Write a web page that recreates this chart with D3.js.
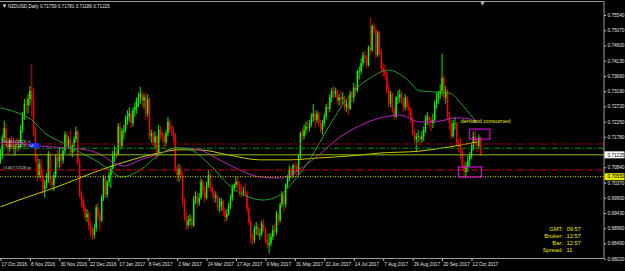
<!DOCTYPE html>
<html>
<head>
<meta charset="utf-8">
<script src="https://cdn.jsdelivr.net/npm/d3@7"></script>
<style>
  body { margin: 0; background: #000; }
  svg { display: block; }
  text { font-family: "Liberation Sans", Arial, sans-serif; }
</style>
</head>
<body>
<svg id="chart" width="625" height="271"></svg>
<script>
// NZDUSD daily bars, 17 Oct 2016 .. 19 Oct 2017
const opens = [
  0.7105,0.7125,0.7175,0.7205,0.7165,0.7140,0.7168,0.7160,0.7140,0.7150,0.7145,
  0.7150,0.7200,0.7245,0.7280,0.7275,0.7295,0.7320,0.7290,0.7195,0.7115,
  0.7060,0.7095,0.7055,0.7015,0.7030,0.7045,0.7125,0.7040,0.7030,0.7060,
  0.7115,0.7100,0.7120,0.7105,0.7135,0.7185,0.7150,0.7170,0.7130,0.7150,
  0.7170,0.7195,0.7100,0.7005,0.6985,0.6960,0.6930,0.6940,0.6905,0.6880,
  0.6875,0.6895,0.6960,0.6935,0.6920,0.6990,0.7050,0.7000,0.7040,0.7060,
  0.7080,0.7120,0.7130,0.7125,0.7210,0.7150,0.7195,0.7200,0.7230,0.7240,
  0.7250,0.7220,0.7260,0.7270,0.7290,0.7300,0.7310,0.7290,0.7300,0.7250,
  0.7295,0.7180,0.7190,0.7160,0.7180,0.7130,0.7200,0.7185,0.7180,0.7160,
  0.7190,0.7225,0.7200,0.7195,0.7185,0.7080,0.7060,0.7080,0.7060,0.6980,
  0.6930,0.6905,0.6920,0.6925,0.6905,0.6985,0.6995,0.6975,0.6990,0.7040,
  0.7010,0.6990,0.7030,0.7060,0.7020,0.7005,0.6990,0.6995,0.6960,0.6965,
  0.6980,0.6950,0.6930,0.6940,0.6965,0.6990,0.7020,0.7030,0.7040,0.7030,
  0.7010,0.7005,0.7010,0.7005,0.6955,0.6915,0.6865,0.6860,0.6895,0.6900,
  0.6875,0.6880,0.6910,0.6895,0.6860,0.6845,0.6850,0.6870,0.6890,0.6885,
  0.6940,0.6920,0.6970,0.7000,0.6970,0.7030,0.7050,0.7080,0.7060,0.7090,
  0.7085,0.7070,0.7120,0.7190,0.7180,0.7200,0.7210,0.7205,0.7220,0.7240,
  0.7250,0.7230,0.7250,0.7220,0.7200,0.7220,0.7240,0.7270,0.7265,0.7300,
  0.7320,0.7310,0.7320,0.7290,0.7300,0.7295,0.7300,0.7270,0.7280,0.7265,
  0.7310,0.7300,0.7330,0.7320,0.7380,0.7380,0.7405,0.7430,0.7420,0.7400,
  0.7455,0.7445,0.7520,0.7510,0.7430,0.7500,0.7440,0.7390,0.7380,0.7370,
  0.7320,0.7280,0.7310,0.7260,0.7240,0.7300,0.7300,0.7310,0.7290,0.7270,
  0.7300,0.7270,0.7260,0.7230,0.7190,0.7170,0.7180,0.7180,0.7170,0.7180,
  0.7200,0.7230,0.7240,0.7230,0.7220,0.7230,0.7280,0.7300,0.7310,0.7320,
  0.7360,0.7300,0.7320,0.7240,0.7220,0.7180,0.7220,0.7220,0.7160,0.7150,
  0.7130,0.7090,0.7070,0.7085,0.7105,0.7120,0.7140,0.7180,0.7165,0.7150,0.71759
];
const highs = [
  0.7140,0.7185,0.7228,0.7220,0.7175,0.7175,0.7182,0.7175,0.7165,0.7175,0.7170,
  0.7215,0.7255,0.7295,0.7300,0.7310,0.7335,0.7404,0.7330,0.7210,0.7125,
  0.7110,0.7110,0.7075,0.7045,0.7065,0.7135,0.7130,0.7055,0.7070,0.7125,
  0.7135,0.7145,0.7130,0.7145,0.7195,0.7195,0.7180,0.7200,0.7160,0.7180,
  0.7210,0.7200,0.7110,0.7010,0.6995,0.6970,0.6955,0.6950,0.6920,0.6900,
  0.6910,0.6970,0.6975,0.6950,0.7000,0.7060,0.7060,0.7045,0.7070,0.7090,
  0.7135,0.7150,0.7140,0.7220,0.7225,0.7205,0.7215,0.7245,0.7260,0.7270,
  0.7260,0.7270,0.7285,0.7300,0.7315,0.7332,0.7320,0.7310,0.7315,0.7310,
  0.7300,0.7200,0.7200,0.7195,0.7185,0.7215,0.7210,0.7195,0.7190,0.7200,
  0.7240,0.7230,0.7215,0.7210,0.7190,0.7090,0.7095,0.7090,0.7070,0.6990,
  0.6945,0.6935,0.6940,0.6935,0.6995,0.7010,0.7005,0.7005,0.7050,0.7045,
  0.7025,0.7040,0.7075,0.7065,0.7030,0.7015,0.7010,0.7000,0.6990,0.6990,
  0.6985,0.6960,0.6955,0.6975,0.7000,0.7030,0.7035,0.7055,0.7055,0.7040,
  0.7030,0.7025,0.7035,0.7010,0.6965,0.6925,0.6880,0.6905,0.6915,0.6910,
  0.6895,0.6920,0.6925,0.6900,0.6880,0.6880,0.6880,0.6905,0.6910,0.6950,
  0.6945,0.6975,0.7010,0.7005,0.7035,0.7060,0.7090,0.7085,0.7095,0.7100,
  0.7095,0.7125,0.7195,0.7205,0.7215,0.7225,0.7230,0.7230,0.7250,0.7280,
  0.7260,0.7260,0.7255,0.7230,0.7230,0.7250,0.7280,0.7285,0.7310,0.7330,
  0.7335,0.7330,0.7325,0.7310,0.7320,0.7315,0.7305,0.7290,0.7295,0.7320,
  0.7320,0.7345,0.7340,0.7385,0.7395,0.7420,0.7440,0.7445,0.7430,0.7460,
  0.7546,0.7525,0.7530,0.7515,0.7505,0.7505,0.7450,0.7405,0.7400,0.7380,
  0.7340,0.7320,0.7315,0.7270,0.7305,0.7320,0.7325,0.7320,0.7300,0.7310,
  0.7305,0.7285,0.7270,0.7240,0.7200,0.7190,0.7200,0.7185,0.7195,0.7210,
  0.7245,0.7255,0.7245,0.7240,0.7250,0.7290,0.7315,0.7320,0.7340,0.7435,
  0.7370,0.7335,0.7325,0.7255,0.7230,0.7230,0.7240,0.7225,0.7170,0.7175,
  0.7140,0.7105,0.7100,0.7120,0.7130,0.7155,0.7195,0.7198,0.7175,0.7185,0.71781
];
const lows = [
  0.7095,0.7110,0.7160,0.7150,0.7125,0.7130,0.7140,0.7125,0.7120,0.7130,0.7135,
  0.7140,0.7190,0.7230,0.7255,0.7250,0.7275,0.7240,0.7180,0.7100,0.7040,
  0.7050,0.7040,0.7000,0.6990,0.7020,0.7035,0.7025,0.7015,0.7010,0.7050,
  0.7085,0.7080,0.7085,0.7095,0.7125,0.7140,0.7140,0.7120,0.7115,0.7130,
  0.7160,0.7090,0.6990,0.6960,0.6945,0.6920,0.6915,0.6890,0.6870,0.6862,
  0.6865,0.6885,0.6920,0.6890,0.6915,0.6980,0.6990,0.6990,0.7025,0.7020,
  0.7070,0.7100,0.7110,0.7120,0.7140,0.7140,0.7170,0.7190,0.7215,0.7225,
  0.7205,0.7210,0.7240,0.7250,0.7270,0.7280,0.7270,0.7265,0.7230,0.7240,
  0.7170,0.7160,0.7150,0.7140,0.7110,0.7125,0.7170,0.7165,0.7145,0.7150,
  0.7180,0.7190,0.7180,0.7160,0.7070,0.7040,0.7040,0.7045,0.6965,0.6920,
  0.6890,0.6895,0.6905,0.6895,0.6900,0.6970,0.6960,0.6965,0.6985,0.6995,
  0.6975,0.6985,0.7020,0.7010,0.6990,0.6975,0.6975,0.6950,0.6945,0.6950,
  0.6935,0.6915,0.6920,0.6935,0.6955,0.6980,0.7010,0.7020,0.7015,0.6995,
  0.6990,0.6995,0.6995,0.6945,0.6905,0.6850,0.6845,0.6850,0.6875,0.6865,
  0.6860,0.6870,0.6885,0.6850,0.6835,0.6818,0.6840,0.6860,0.6870,0.6875,
  0.6905,0.6915,0.6960,0.6945,0.6960,0.7020,0.7040,0.7050,0.7050,0.7060,
  0.7055,0.7060,0.7110,0.7165,0.7170,0.7185,0.7190,0.7195,0.7210,0.7225,
  0.7205,0.7220,0.7210,0.7190,0.7185,0.7210,0.7230,0.7250,0.7255,0.7285,
  0.7295,0.7300,0.7280,0.7275,0.7270,0.7280,0.7260,0.7255,0.7245,0.7260,
  0.7285,0.7285,0.7305,0.7315,0.7355,0.7370,0.7395,0.7405,0.7390,0.7395,
  0.7430,0.7440,0.7495,0.7420,0.7425,0.7430,0.7380,0.7365,0.7355,0.7310,
  0.7270,0.7270,0.7255,0.7230,0.7235,0.7280,0.7285,0.7280,0.7255,0.7260,
  0.7260,0.7240,0.7220,0.7180,0.7160,0.7130,0.7160,0.7150,0.7160,0.7165,
  0.7190,0.7215,0.7210,0.7195,0.7205,0.7220,0.7265,0.7280,0.7295,0.7305,
  0.7290,0.7280,0.7230,0.7200,0.7170,0.7175,0.7200,0.7150,0.7130,0.7110,
  0.7080,0.7052,0.7055,0.7070,0.7085,0.7110,0.7135,0.7150,0.7130,0.7140,0.71189
];
const closes = [
  0.7125,0.7175,0.7205,0.7165,0.7140,0.7168,0.7160,0.7140,0.7150,0.7145,0.7150,
  0.7200,0.7245,0.7280,0.7275,0.7295,0.7320,0.7290,0.7195,0.7115,0.7060,
  0.7095,0.7055,0.7015,0.7030,0.7045,0.7125,0.7040,0.7030,0.7060,0.7115,
  0.7100,0.7120,0.7105,0.7135,0.7185,0.7150,0.7170,0.7130,0.7150,0.7170,
  0.7195,0.7100,0.7005,0.6985,0.6960,0.6930,0.6940,0.6905,0.6880,0.6875,
  0.6895,0.6960,0.6935,0.6920,0.6990,0.7050,0.7000,0.7040,0.7060,0.7080,
  0.7120,0.7130,0.7125,0.7210,0.7150,0.7195,0.7200,0.7230,0.7240,0.7250,
  0.7220,0.7260,0.7270,0.7290,0.7300,0.7310,0.7290,0.7300,0.7250,0.7295,
  0.7180,0.7190,0.7160,0.7180,0.7130,0.7200,0.7185,0.7180,0.7160,0.7190,
  0.7225,0.7200,0.7195,0.7185,0.7080,0.7060,0.7080,0.7060,0.6980,0.6930,
  0.6905,0.6920,0.6925,0.6905,0.6985,0.6995,0.6975,0.6990,0.7040,0.7010,
  0.6990,0.7030,0.7060,0.7020,0.7005,0.6990,0.6995,0.6960,0.6965,0.6980,
  0.6950,0.6930,0.6940,0.6965,0.6990,0.7020,0.7030,0.7040,0.7030,0.7010,
  0.7005,0.7010,0.7005,0.6955,0.6915,0.6865,0.6860,0.6895,0.6900,0.6875,
  0.6880,0.6910,0.6895,0.6860,0.6845,0.6850,0.6870,0.6890,0.6885,0.6940,
  0.6920,0.6970,0.7000,0.6970,0.7030,0.7050,0.7080,0.7060,0.7090,0.7085,
  0.7070,0.7120,0.7190,0.7180,0.7200,0.7210,0.7205,0.7220,0.7240,0.7250,
  0.7230,0.7250,0.7220,0.7200,0.7220,0.7240,0.7270,0.7265,0.7300,0.7320,
  0.7310,0.7320,0.7290,0.7300,0.7295,0.7300,0.7270,0.7280,0.7265,0.7310,
  0.7300,0.7330,0.7320,0.7380,0.7380,0.7405,0.7430,0.7420,0.7400,0.7455,
  0.7445,0.7520,0.7510,0.7430,0.7500,0.7440,0.7390,0.7380,0.7370,0.7320,
  0.7280,0.7310,0.7260,0.7240,0.7300,0.7300,0.7310,0.7290,0.7270,0.7300,
  0.7270,0.7260,0.7230,0.7190,0.7170,0.7180,0.7180,0.7170,0.7180,0.7200,
  0.7230,0.7240,0.7230,0.7220,0.7230,0.7280,0.7300,0.7310,0.7320,0.7360,
  0.7300,0.7320,0.7240,0.7220,0.7180,0.7220,0.7220,0.7160,0.7150,0.7130,
  0.7090,0.7070,0.7085,0.7105,0.7120,0.7140,0.7180,0.7165,0.7150,0.7176,0.71225
];

// moving averages, sampled as [bar index, price]
const maGreen = [[0,0.7267],[8,0.7255],[17,0.7230],[24,0.7190],[34,0.7159],[43,0.7131],[54,0.7097],
  [59,0.7076],[66,0.7054],[76,0.7076],[86,0.7122],[95,0.7144],[103,0.7138],[114,0.7091],[124,0.7030],
  [135,0.6992],[143,0.6983],[152,0.6999],[160,0.7045],[168,0.7107],[179,0.7215],[190,0.7307],
  [201,0.7360],[211,0.7384],[220,0.7360],[228,0.7320],[244,0.7313],[251,0.7276],[259,0.7221]];
const maMagenta = [[0,0.7162],[10,0.7159],[21,0.7150],[36,0.7144],[43,0.7141],[54,0.7125],[62,0.7097],
  [67,0.7088],[76,0.7107],[86,0.7125],[97,0.7144],[108,0.7138],[119,0.7107],[130,0.7076],[141,0.7054],
  [152,0.7051],[162,0.7076],[173,0.7122],[184,0.7175],[195,0.7212],[206,0.7236],[217,0.7245],
  [228,0.7224],[239,0.7227],[247,0.7236],[252,0.7236],[259,0.7224]];
const maYellow = [[0,0.6962],[10,0.6983],[29,0.7020],[59,0.7085],[86,0.7128],[97,0.7138],[108,0.7138],
  [124,0.7122],[141,0.7107],[157,0.7107],[173,0.7113],[190,0.7119],[206,0.7128],[228,0.7134],
  [244,0.7147],[259,0.7162]];

// date labels every 16 bars
const dateLabels = ["17 Oct 2016","8 Nov 2016","30 Nov 2016","22 Dec 2016","17 Jan 2017","8 Feb 2017",
  "2 Mar 2017","24 Mar 2017","17 Apr 2017","9 May 2017","31 May 2017","22 Jun 2017","14 Jul 2017",
  "7 Aug 2017","29 Aug 2017","20 Sep 2017","12 Oct 2017"];
// 0.71310 sits under the bid tag, so it is not listed
const priceTicks = [0.75540,0.75070,0.74600,0.74130,0.73660,0.73190,0.72720,0.72250,0.71780,
  0.70840,0.70370,0.69900,0.69430,0.68960,0.68490,0.68020];

// horizontal levels
const levels = [
  {price: 0.7156, color: "#a00000", dash: "6,2,1.5,2"},
  {price: 0.7143, color: "#109a10", dash: "6,2,1.5,2"},
  {price: 0.71225, color: "#8cc000", dash: null},
  {price: 0.7076, color: "#e00000", dash: "6,2,1.5,2"},
  {price: 0.7055, color: "#e0e000", dash: "1,1.5"}
];
const zones = [
  {from: 255, to: 266, top: 0.7202, bottom: 0.7171},
  {from: 249, to: 261.5, top: 0.7085, bottom: 0.7054}
];
const info = [["GMT:", "09:57"], ["Broker:", "12:57"], ["Bar:", "12:57"], ["Spread:", "11"]];

const W = 625, H = 271;
const plotRight = 604, plotTop = 2, plotBottom = 258.5;

const svg = d3.select("#chart");
svg.append("rect").attr("width", W).attr("height", H).attr("fill", "#000");

const x = d3.scaleLinear().domain([0, 256]).range([0.5, 471.5]);
const y = d3.scaleLinear().domain([0.6802, 0.7554]).range([258.7, 15]);

svg.append("clipPath").attr("id", "plot")
  .append("rect").attr("x", 0).attr("y", plotTop).attr("width", plotRight).attr("height", plotBottom - plotTop);

const plot = svg.append("g").attr("clip-path", "url(#plot)");

// candles
const bars = d3.range(closes.length).map(i => ({i, o: opens[i], h: highs[i], l: lows[i], c: closes[i]}));
const candle = plot.append("g").selectAll("g").data(bars).enter().append("g")
  .attr("fill", d => d.c >= d.o ? "#00ff00" : "#ff0000")
  .attr("stroke", d => d.c >= d.o ? "#00ff00" : "#ff0000");
candle.append("line")
  .attr("x1", d => x(d.i)).attr("x2", d => x(d.i))
  .attr("y1", d => y(d.h)).attr("y2", d => y(d.l))
  .attr("stroke-width", 0.9);
candle.append("rect")
  .attr("x", d => x(d.i) - 0.7).attr("width", 1.4)
  .attr("y", d => y(Math.max(d.o, d.c)))
  .attr("height", d => Math.max(0.6, Math.abs(y(d.o) - y(d.c))))
  .attr("stroke", "none");

// moving averages
const line = d3.line().x(d => x(d[0])).y(d => y(d[1])).curve(d3.curveMonotoneX);
[[maYellow, "#c8c800"], [maMagenta, "#c020c0"], [maGreen, "#22a022"]].forEach(([pts, col]) => {
  plot.append("path").datum(pts).attr("d", line)
    .attr("fill", "none").attr("stroke", col).attr("stroke-width", 1);
});

// horizontal levels
plot.selectAll(".lvl").data(levels).enter().append("line")
  .attr("x1", 0).attr("x2", plotRight)
  .attr("y1", d => y(d.price)).attr("y2", d => y(d.price))
  .attr("stroke", d => d.color).attr("stroke-width", 1)
  .attr("stroke-dasharray", d => d.dash);

// zones
plot.selectAll(".zone").data(zones).enter().append("rect")
  .attr("x", d => x(d.from)).attr("width", d => x(d.to) - x(d.from))
  .attr("y", d => y(d.top)).attr("height", d => y(d.bottom) - y(d.top))
  .attr("fill", "none").attr("stroke", "#ff00ff").attr("stroke-width", 1);

plot.append("text").attr("x", x(250)).attr("y", y(0.7221))
  .attr("fill", "#e6e600").attr("font-size", 5.9).text("demand consumed");

// order markers on the left
plot.append("rect").attr("x", x(16)).attr("width", x(21) - x(16))
  .attr("y", y(0.7159)).attr("height", y(0.7144) - y(0.7159)).attr("fill", "#1030ff");
const orderText = [["#146772328 sl", 0.7160], ["#146772328 sell", 0.7146], ["#146772328 tp", 0.7080]];
plot.selectAll(".ord").data(orderText).enter().append("text")
  .attr("x", 3).attr("y", d => y(d[1])).attr("fill", "#c8c8c8").attr("font-size", 4.2)
  .text(d => d[0]);

// frame
svg.append("line").attr("x1", 0).attr("x2", plotRight).attr("y1", 1.5).attr("y2", 1.5).attr("stroke", "#9a9a9a");
svg.append("line").attr("x1", plotRight).attr("x2", plotRight).attr("y1", 1.5).attr("y2", plotBottom).attr("stroke", "#9a9a9a");
svg.append("line").attr("x1", 0).attr("x2", plotRight).attr("y1", plotBottom).attr("y2", plotBottom).attr("stroke", "#9a9a9a");

// chart shift marker
svg.append("path").attr("d", d3.symbol(d3.symbolTriangle, 10)).attr("fill", "#b0b0b0")
  .attr("transform", `translate(${x(262)},3) rotate(180)`);

// price axis
const yAxis = svg.append("g").attr("transform", `translate(${plotRight},0)`)
  .call(d3.axisRight(y).tickValues(priceTicks).tickFormat(d3.format(".5f")).tickSize(2).tickPadding(1.5));
yAxis.select(".domain").remove();
yAxis.selectAll("line").attr("stroke", "#c0c0c0");
yAxis.selectAll("text").attr("fill", "#e0e0e0").attr("font-size", 4.7)
  .attr("font-family", "Liberation Sans, Arial, sans-serif");

// date axis
const xAxis = svg.append("g").attr("transform", `translate(0,${plotBottom})`)
  .call(d3.axisBottom(x).tickValues(dateLabels.map((d, i) => i * 16))
    .tickFormat((d, i) => dateLabels[i]).tickSize(2.5).tickPadding(1.8));
xAxis.select(".domain").remove();
xAxis.selectAll("line").attr("stroke", "#c0c0c0");
xAxis.selectAll("text").attr("fill", "#e0e0e0").attr("font-size", 4.7)
  .attr("text-anchor", "start").attr("dx", 0.6)
  .attr("font-family", "Liberation Sans, Arial, sans-serif");

// price tags
const tags = [{price: 0.71225, bg: "#ffffff"}, {price: 0.7055, bg: "#e8e800"}];
const tag = svg.selectAll(".tag").data(tags).enter().append("g")
  .attr("transform", d => `translate(${plotRight},${y(d.price)})`);
tag.append("rect").attr("x", 0.5).attr("y", -3.5).attr("width", 20).attr("height", 7).attr("fill", d => d.bg);
tag.append("text").attr("x", 3.5).attr("y", 1.7).attr("font-size", 4.7).attr("fill", "#000")
  .text(d => d3.format(".5f")(d.price));

// header
svg.append("path").attr("d", d3.symbol(d3.symbolTriangle, 6)).attr("fill", "#e0e0e0")
  .attr("transform", "translate(4.5,5.5) rotate(180)");
svg.append("text").attr("x", 8).attr("y", 7.5).attr("fill", "#e0e0e0").attr("font-size", 4.6)
  .text("NZDUSD,Daily  " + [opens, highs, lows, closes].map(a => a[a.length - 1].toFixed(5)).join(" "));

// terminal info box
const infoRow = svg.selectAll(".info").data(info).enter().append("g")
  .attr("transform", (d, i) => `translate(0,${231 + i * 7})`);
infoRow.append("text").attr("x", 563).attr("text-anchor", "end")
  .attr("fill", "#e6e600").attr("font-size", 5.8).text(d => d[0]);
infoRow.append("text").attr("x", 566.5)
  .attr("fill", "#e6e600").attr("font-size", 5.8).text(d => d[1]);
</script>
</body>
</html>
